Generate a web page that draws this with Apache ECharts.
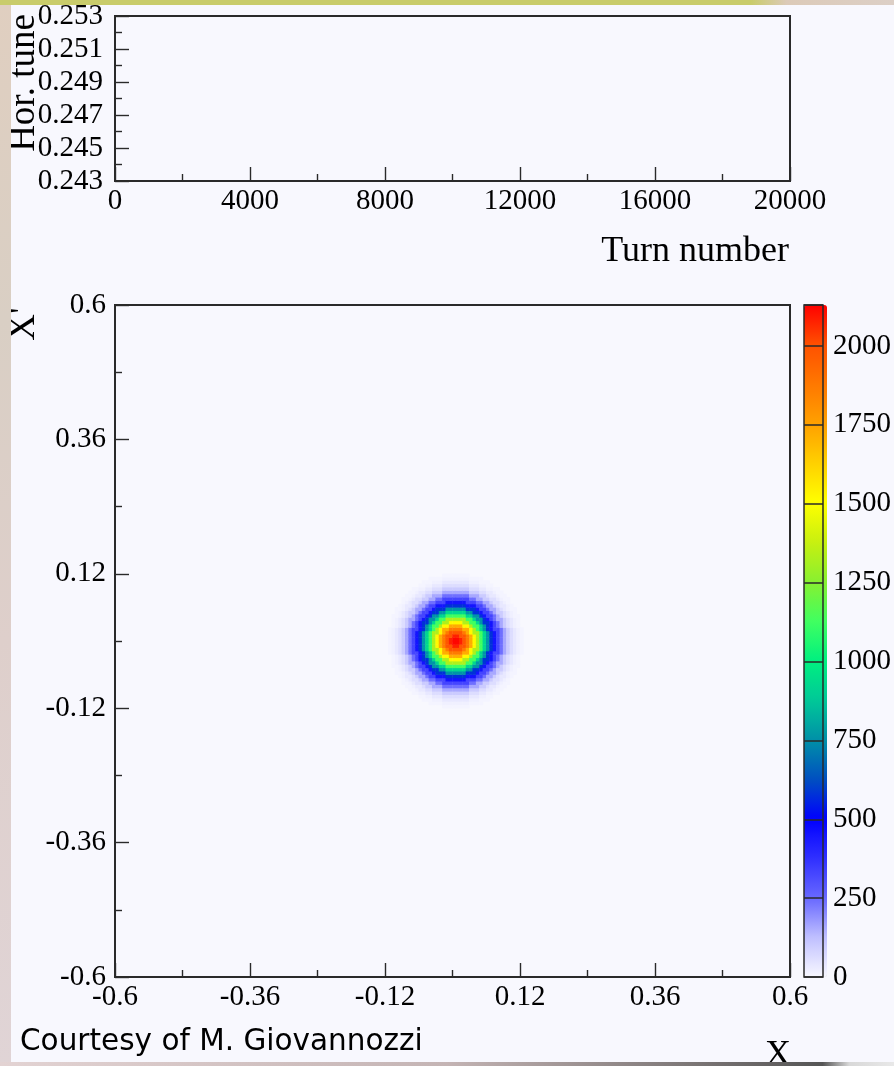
<!DOCTYPE html>
<html>
<head>
<meta charset="utf-8">
<title>Hor. tune / phase space</title>
<script src="https://cdn.jsdelivr.net/npm/echarts@6/dist/echarts.min.js"></script>
<style>
html, body { margin: 0; padding: 0; background: #f8f8fe; }
#main { width: 894px; height: 1066px; }
</style>
</head>
<body>
<div id="main"></div>
<script>
// top panel: empty tune plot
var turnRange = [0, 20000];
var tuneRange = [0.243, 0.253];

// bottom panel: X / X' histogram, 200 x 200 bins over [-0.6, 0.6]
var phaseRange = [-0.6, 0.6];
var nBins = 200;
var spotCenter = [0.006, 0.0];
// counts, ring by ring (ring k = k..k+1 bins from the centre)
var spotCounts = [2120, 2080, 1990, 1870, 1720, 1520, 1330, 1130, 920, 760,
                  580, 450, 330, 240, 160, 100, 60, 35, 18, 8];

// colour scale
var zMax = 2130;
var zTickStep = 250;
var paletteColors = ['#f8f8ff', '#c0c0ff', '#6868ff', '#3030ff', '#0000ff', '#0050c0',
                     '#0090a8', '#00c898', '#00f080', '#40ff60', '#88f030', '#c8f010',
                     '#ffff00', '#ffd000', '#ffa000', '#ff7800', '#ff5000', '#ff0000'];

var binW = (phaseRange[1] - phaseRange[0]) / nBins;
var binNames = [];
for (var i = 0; i < nBins; i++) binNames.push(String(i));

// build the cells from the ring table
var cells = [];
var cx = (spotCenter[0] - phaseRange[0]) / binW - 0.5;
var cy = (spotCenter[1] - phaseRange[0]) / binW - 0.5;
for (var ix = 0; ix < nBins; ix++) {
    for (var iy = 0; iy < nBins; iy++) {
        var d = Math.sqrt((ix - cx) * (ix - cx) + (iy - cy) * (iy - cy));
        var k = Math.floor(d);
        if (k < spotCounts.length) cells.push([ix, iy, spotCounts[k]]);
    }
}

var serif = '"Liberation Serif", "DejaVu Serif", serif';
var ink = '#2a2a2a';
var numFmt = function (v) { return String(+(+v).toFixed(4)); };

function valueAxis(gridIndex, min, max, interval, pos, margin) {
    return {
        type: 'value', gridIndex: gridIndex, min: min, max: max, interval: interval,
        position: pos,
        axisLine: { show: true, onZero: false, lineStyle: { color: ink, width: 2 } },
        axisTick: { show: true, inside: true, length: 14, lineStyle: { color: ink, width: 1.4 } },
        minorTick: { show: true, splitNumber: 2, length: 7, lineStyle: { color: ink, width: 1.4 } },
        splitLine: { show: false },
        axisLabel: { fontFamily: serif, fontSize: 29, color: '#000', margin: margin, formatter: numFmt,
                     showMinLabel: true, showMaxLabel: true }
    };
}

var chart = echarts.init(document.getElementById('main'));
chart.setOption({
    backgroundColor: '#f8f8fe',
    animation: false,
    grid: [
        { left: 115, top: 16, width: 675, height: 165, show: true, borderColor: ink, borderWidth: 2, backgroundColor: 'transparent' },
        { left: 115, top: 305, width: 675, height: 672 },
        { left: 115, top: 305, width: 675, height: 672, show: true, borderColor: ink, borderWidth: 2, backgroundColor: 'transparent', z: 5 },
        { left: 804, top: 305, width: 23, height: 672, show: true, borderColor: ink, borderWidth: 1.5, backgroundColor: 'transparent', z: 10 }
    ],
    xAxis: [
        valueAxis(0, turnRange[0], turnRange[1], 4000, 'bottom', 6),
        { type: 'category', gridIndex: 1, data: binNames, show: false },
        valueAxis(2, phaseRange[0], phaseRange[1], 0.24, 'bottom', 6),
        { type: 'category', gridIndex: 3, data: ['z'], show: false }
    ],
    yAxis: [
        valueAxis(0, tuneRange[0], tuneRange[1], 0.002, 'left', 12),
        { type: 'category', gridIndex: 1, data: binNames, show: false },
        valueAxis(2, phaseRange[0], phaseRange[1], 0.24, 'left', 9),
        {
            type: 'value', gridIndex: 3, min: 0, max: zMax, interval: zTickStep, position: 'right', z: 10,
            axisLine: { show: false }, axisTick: { show: false },
            splitLine: { show: true, lineStyle: { color: ink, width: 1.5 } },
            axisLabel: { fontFamily: serif, fontSize: 29, color: '#000', margin: 10, showMaxLabel: false,
                         formatter: function (v) { return v % zTickStep === 0 ? String(v) : ''; } }
        }
    ],
    visualMap: {
        type: 'continuous', seriesIndex: 1, dimension: 2,
        min: 0, max: zMax, calculable: false, hoverLink: false,
        left: 804, top: 305, itemWidth: 23, itemHeight: 672, padding: 0,
        inRange: { color: paletteColors }
    },
    series: [
        { type: 'line', xAxisIndex: 0, yAxisIndex: 0, data: [], silent: true },
        {
            type: 'heatmap', xAxisIndex: 1, yAxisIndex: 1, data: cells, silent: true,
            itemStyle: { borderWidth: 0 }, emphasis: { disabled: true }
        }
    ],
    graphic: [
        { type: 'rect', z: 100, shape: { x: 0, y: 0, width: 11, height: 1066 },
          style: { fill: new echarts.graphic.LinearGradient(0, 0, 0, 1, [
              { offset: 0, color: '#e0cfc0' }, { offset: 0.3, color: '#d9cfc4' },
              { offset: 0.6, color: '#decfcb' }, { offset: 1, color: '#e0d4d6' }]) } },
        { type: 'rect', z: 100, shape: { x: 0, y: 0, width: 894, height: 5 },
          style: { fill: new echarts.graphic.LinearGradient(0, 0, 1, 0, [
              { offset: 0, color: '#c9cc6b' }, { offset: 0.84, color: '#c9cc6b' },
              { offset: 0.88, color: '#dccab8' }, { offset: 1, color: '#dccfc6' }]) } },
        { type: 'rect', z: 100, shape: { x: 0, y: 1062, width: 894, height: 4 },
          style: { fill: new echarts.graphic.LinearGradient(0, 0, 1, 0, [
              { offset: 0, color: '#e3d3d3' }, { offset: 0.5, color: '#c4b4b4' },
              { offset: 0.92, color: '#555555' }, { offset: 0.95, color: '#d8d8d8' }, { offset: 1, color: '#e8e8e8' }]) } },
        { type: 'text', x: 24, y: 83, rotation: Math.PI / 2, z: 50,
          style: { text: 'Hor. tune', font: '37px ' + serif, fill: '#000', textAlign: 'center', textVerticalAlign: 'middle' } },
        { type: 'text', x: 24, y: 324, rotation: Math.PI / 2, z: 50,
          style: { text: "X'", font: '37px ' + serif, fill: '#000', textAlign: 'center', textVerticalAlign: 'middle' } },
        { type: 'text', x: 789, y: 252, z: 50,
          style: { text: 'Turn number', font: '36px ' + serif, fill: '#000', textAlign: 'right', textVerticalAlign: 'middle' } },
        { type: 'text', x: 778, y: 1056, z: 50,
          style: { text: 'X', font: '36px ' + serif, fill: '#000', textAlign: 'center', textVerticalAlign: 'middle' } },
        { type: 'text', x: 20, y: 1042, z: 50,
          style: { text: 'Courtesy of M. Giovannozzi', font: '29.5px "DejaVu Sans", sans-serif', fill: '#000', textAlign: 'left', textVerticalAlign: 'middle' } }
    ]
});
</script>
</body>
</html>
